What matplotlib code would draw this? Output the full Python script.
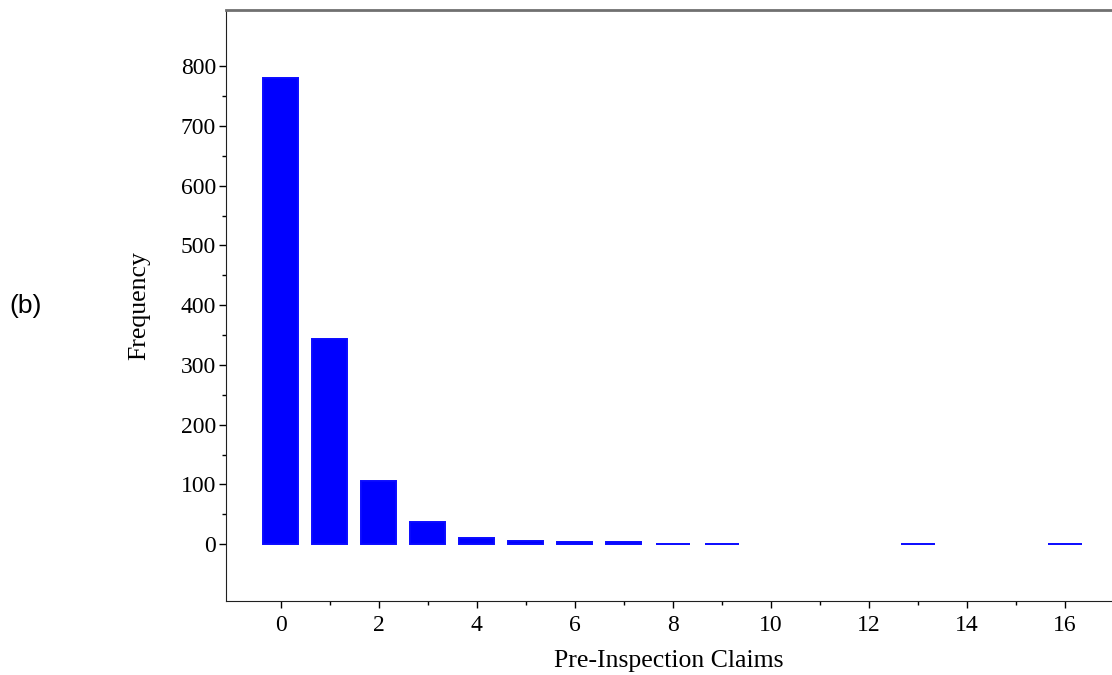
import matplotlib
matplotlib.use("Agg")
import matplotlib.pyplot as plt
from matplotlib.ticker import FixedLocator

# Frequency of pre-inspection claim counts
claims = [0, 1, 2, 3, 4, 5, 6, 7, 8, 9, 13, 16]
frequency = [780, 343, 106, 37, 10, 5, 3, 4, 1, 1, 1, 1]

x_ticks = [0, 2, 4, 6, 8, 10, 12, 14, 16]
x_minor = [1, 3, 5, 7, 9, 11, 13, 15]
y_ticks = [0, 100, 200, 300, 400, 500, 600, 700, 800]
y_minor = [50, 150, 250, 350, 450, 550, 650, 750]

plt.rcParams["font.family"] = ["Liberation Serif", "DejaVu Serif"]

fig = plt.figure(figsize=(11.12, 6.75), dpi=100)
ax = fig.add_axes([0.2032, 0.1096, 0.7968, 0.8756])

ax.bar(claims, frequency, width=0.71, color="#0000ff",
       edgecolor="#0a0aff", linewidth=1.4)

ax.set_xlim(-1.12, 16.96)
ax.set_ylim(-95, 894)
ax.set_xticks(x_ticks)
ax.set_yticks(y_ticks)
ax.xaxis.set_minor_locator(FixedLocator(x_minor))
ax.yaxis.set_minor_locator(FixedLocator(y_minor))

ax.tick_params(axis="both", which="major", direction="out", length=5,
               width=1, labelsize=17, pad=2)
ax.tick_params(axis="both", which="minor", direction="out", length=3, width=1)
ax.tick_params(axis="x", pad=5)

ax.spines["right"].set_visible(False)
ax.spines["top"].set_color("#707070")
ax.spines["top"].set_linewidth(2)
ax.spines["left"].set_color("#202020")
ax.spines["bottom"].set_color("#202020")

ax.set_xlabel("Pre-Inspection Claims", fontsize=18.5, labelpad=10)
ax.set_ylabel("Frequency", fontsize=18.5, labelpad=22)

fig.text(26 / 1112, 1 - 306 / 675, "(b)", fontsize=19,
         family=["Liberation Sans", "DejaVu Sans"], ha="center", va="center")

fig.savefig("out.png", dpi=100)
plt.close(fig)
